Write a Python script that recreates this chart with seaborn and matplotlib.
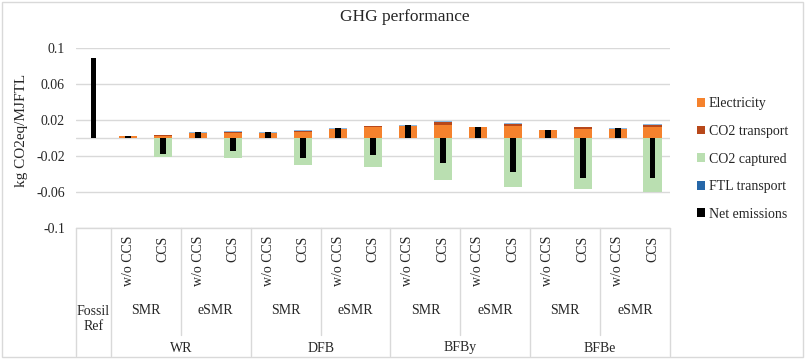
import matplotlib
matplotlib.use("Agg")
import matplotlib.pyplot as plt
import matplotlib.transforms as mtransforms
from matplotlib.lines import Line2D
from matplotlib.patches import Rectangle
import seaborn as sns
import pandas as pd

# ---------------- data ----------------
feedstocks = ["WR", "DFB", "BFBy", "BFBe"]
reformers = ["SMR", "eSMR"]
ccs_options = ["w/o CCS", "CCS"]
fossil_label = "Fossil\nRef"

series_names = ["Electricity", "CO2 transport", "CO2 captured", "FTL transport", "Net emissions"]

electricity = [0.0, 0.0017, 0.0019, 0.0061, 0.0059, 0.0058, 0.0066, 0.0105, 0.0118,
               0.0135, 0.0150, 0.0117, 0.0131, 0.0087, 0.0098, 0.0105, 0.0119]
co2_transport = [0.0, 0.0, 0.0009, 0.0, 0.0013, 0.0, 0.0014, 0.0, 0.0010,
                 0.0, 0.0028, 0.0, 0.0026, 0.0, 0.0022, 0.0, 0.0031]
co2_captured = [0.0, 0.0, -0.0206, 0.0, -0.0220, 0.0, -0.0302, 0.0, -0.0320,
                0.0, -0.0464, 0.0, -0.0545, 0.0, -0.0564, 0.0, -0.0600]
ftl_transport = [0.0, 0.0005, 0.0005, 0.0005, 0.0005, 0.0005, 0.0005, 0.0005, 0.0005,
                 0.0005, 0.0006, 0.0005, 0.0005, 0.0005, 0.0005, 0.0005, 0.0005]
net_emissions = [0.0888, 0.0022, -0.0173, 0.0066, -0.0143, 0.0063, -0.0217, 0.0110, -0.0187,
                 0.0140, -0.0280, 0.0122, -0.0383, 0.0092, -0.0439, 0.0110, -0.0445]

y_ticks = [-0.1, -0.06, -0.02, 0.02, 0.06, 0.1]
y_tick_labels = ["-0.1", "-0.06", "-0.02", "0.02", "0.06", "0.1"]

title = "GHG performance"
y_label = "kg CO2eq/MJFTL"

# ---------------- styling ----------------
colors = {
    "Electricity": "#F5822D",
    "CO2 transport": "#B8481A",
    "CO2 captured": "#BADFB1",
    "FTL transport": "#2667A8",
    "Net emissions": "#000000",
}
ftl_bar_color = "#8DB8E0"

sns.set_theme(style="white")
plt.rcParams["font.family"] = ["Liberation Serif", "DejaVu Serif"]
text_color = "#262626"

keys = ["Fossil Ref"] + [f"{f} {r} {c}" for f in feedstocks for r in reformers for c in ccs_options]
df = pd.DataFrame({
    "key": keys,
    "E": electricity,
    "T": co2_transport,
    "C": co2_captured,
    "F": ftl_transport,
    "Net": net_emissions,
})
df["lvl_E"] = df["E"]
df["lvl_ET"] = df["E"] + df["T"]
df["lvl_ETF"] = df["E"] + df["T"] + df["F"]

W, H = 809, 362
fig = plt.figure(figsize=(W / 100, H / 100), dpi=100)
ax_left, ax_right = 76 / W, 670 / W
ax_top, ax_bot = 1 - 48 / H, 1 - 228 / H
ax = fig.add_axes([ax_left, ax_bot, ax_right - ax_left, ax_top - ax_bot])

stack_w = 0.52
common = dict(order=keys, saturation=1, linewidth=0, errorbar=None, ax=ax)
sns.barplot(data=df, x="key", y="lvl_ETF", color=ftl_bar_color, width=stack_w, zorder=2, **common)
sns.barplot(data=df, x="key", y="lvl_ET", color=colors["CO2 transport"], width=stack_w, zorder=2, **common)
sns.barplot(data=df, x="key", y="lvl_E", color=colors["Electricity"], width=stack_w, zorder=2, **common)
sns.barplot(data=df, x="key", y="C", color=colors["CO2 captured"], width=stack_w, zorder=2, **common)
sns.barplot(data=df, x="key", y="Net", color=colors["Net emissions"], width=0.17, zorder=3, **common)

ax.set_xlim(-0.5, len(keys) - 0.5)
ax.set_ylim(-0.1, 0.1)
ax.set_yticks(y_ticks)
ax.set_yticklabels(y_tick_labels, fontsize=10, color=text_color)
ax.set_xticks([])
ax.set_xlabel("")
ax.set_ylabel("")
ax.tick_params(axis="y", length=0, pad=8)
ax.yaxis.grid(True, color="#D9D9D9", lw=1)
ax.set_axisbelow(True)
ax.axhline(0, color="#D9D9D9", lw=1, zorder=1)
for s in ax.spines.values():
    s.set_visible(False)

# y label and title
fig.text(22 / W, 1 - 130 / H, y_label, rotation=90, ha="center", va="center",
         fontsize=11, color=text_color)
fig.text(0.5, 1 - 17 / H, title, ha="center", va="center", fontsize=12.5, color=text_color)

# ---------------- multi-level category axis ----------------
trans = mtransforms.blended_transform_factory(ax.transData, fig.transFigure)
line_kw = dict(color="#D9D9D9", lw=1, transform=trans, clip_on=False)
y_top = ax_bot
y_bottom = 1 - 356 / H
y_short = 1 - 335 / H
n = len(keys)
for x in [-0.5, 0.5, 4.5, 8.5, 12.5, n - 0.5]:
    fig.add_artist(Line2D([x, x], [y_top, y_bottom], **line_kw))
for x in [2.5, 6.5, 10.5, 14.5]:
    fig.add_artist(Line2D([x, x], [y_top, y_short], **line_kw))
fig.add_artist(Line2D([-0.5, n - 0.5], [y_top, y_top], **line_kw))

lab_kw = dict(transform=trans, color=text_color, fontsize=10)
ax.text(0, 1 - 319 / H, fossil_label, ha="center", va="center", linespacing=1.15, **lab_kw)
pos = 1
for f in feedstocks:
    group_start = pos
    for r in reformers:
        sub_start = pos
        for c in ccs_options:
            ax.text(pos, 1 - 236 / H, c, rotation=90, ha="center", va="top", **lab_kw)
            pos += 1
        ax.text((sub_start + pos - 1) / 2, 1 - 310 / H, r, ha="center", va="center", **lab_kw)
    ax.text((group_start + pos - 1) / 2, 1 - 348 / H, f, ha="center", va="center", **lab_kw)

# ---------------- legend ----------------
handles = [Rectangle((0, 0), 1, 1, facecolor=colors[s], edgecolor="none") for s in series_names]
fig.legend(handles, series_names, loc="center left", bbox_to_anchor=(684 / W, 1 - 159 / H),
           frameon=False, fontsize=10, handlelength=0.6, handleheight=0.6,
           handletextpad=0.3, labelspacing=1.05, labelcolor=text_color)

# chart border
fig.add_artist(Rectangle((2 / W, 1 - 357 / H), (803 - 2) / W, (357 - 2) / H,
                         transform=fig.transFigure, fill=False, edgecolor="#D9D9D9", lw=1))

fig.savefig("out.png", dpi=100)
